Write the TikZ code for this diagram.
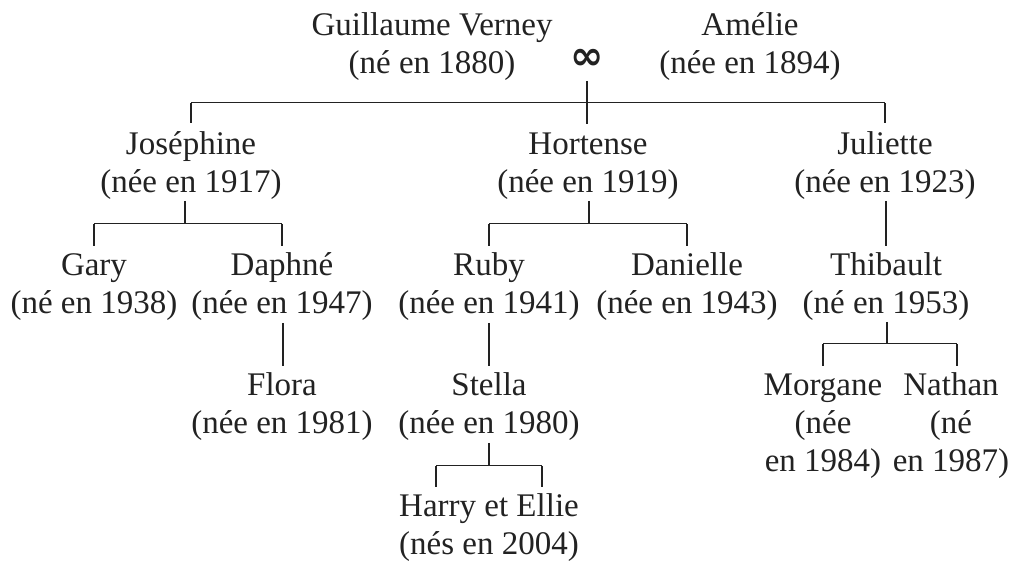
\documentclass[tikz,border=0pt]{standalone}
\usepackage{fontspec}
\setmainfont{Liberation Serif}
\newfontfamily\symfont{DejaVu Sans}
\usetikzlibrary{calc}
\definecolor{ink}{HTML}{222222}
\tikzset{
  person/.style={align=center, inner sep=0pt, anchor=north, text=ink,
    font=\fontsize{33}{38}\selectfont},
  marriage/.style={inner sep=0pt, text=ink, font=\symfont\bfseries\fontsize{40}{40}\selectfont},
  link/.style={draw=ink, line width=1.3pt},
}
\begin{document}
\begin{tikzpicture}[x=1pt,y=-1pt]
\useasboundingbox (0,0) rectangle (1012,561);
% generation 0
\node[person] (gv) at (432,8.4) {\strut Guillaume Verney\\\strut (né en 1880)};
\node[person] (am) at (750,8.4) {\strut Amélie\\\strut (née en 1894)};
\node[marriage] (wed) at (587,59) {∞};
% generation 1
\node[person] (jo) at (191,127.4) {\strut Joséphine\\\strut (née en 1917)};
\node[person] (ho) at (588,127.4) {\strut Hortense\\\strut (née en 1919)};
\node[person] (ju) at (885,127.4) {\strut Juliette\\\strut (née en 1923)};
% generation 2
\node[person] (ga) at (94,248.4) {\strut Gary\\\strut (né en 1938)};
\node[person] (da) at (282,248.4) {\strut Daphné\\\strut (née en 1947)};
\node[person] (ru) at (489,248.4) {\strut Ruby\\\strut (née en 1941)};
\node[person] (dn) at (687,248.4) {\strut Danielle\\\strut (née en 1943)};
\node[person] (th) at (886,248.4) {\strut Thibault\\\strut (né en 1953)};
% generation 3
\node[person] (fl) at (282,368.4) {\strut Flora\\\strut (née en 1981)};
\node[person] (st) at (489,368.4) {\strut Stella\\\strut (née en 1980)};
\node[person] (mo) at (823,368.4) {\strut Morgane\\\strut (née\\\strut en 1984)};
\node[person] (na) at (951,368.4) {\strut Nathan\\\strut (né\\\strut en 1987)};
% generation 4
\node[person] (he) at (489,489.4) {\strut Harry et Ellie\\\strut (nés en 2004)};

% couple -> daughters
\coordinate (s0) at (wed |- gv.south);
\draw[link] ($(s0)+(0,-4)$) -- ($(wed |- ho.north)+(0,-3)$);
\coordinate (b0) at ($(s0)+(0,18)$);
\draw[link] (b0 -| jo.north) -- (b0 -| ju.north);
\draw[link] (b0 -| jo.north) -- ($(jo.north)+(0,-4)$);
\draw[link] (b0 -| ju.north) -- ($(ju.north)+(0,-4)$);
% Josephine
\coordinate (s1) at ($(jo.south)+(-6,-3)$);
\coordinate (b1) at ($(s1)+(0,23)$);
\draw[link] (s1) -- (b1);
\draw[link] (b1 -| ga.north) -- (b1 -| da.north);
\draw[link] (b1 -| ga.north) -- ($(ga.north)+(0,-2)$);
\draw[link] (b1 -| da.north) -- ($(da.north)+(0,-2)$);
% Hortense
\coordinate (s2) at ($(ho.south)+(1,-3)$);
\coordinate (b2) at ($(s2)+(0,23)$);
\draw[link] (s2) -- (b2);
\draw[link] (b2 -| ru.north) -- (b2 -| dn.north);
\draw[link] (b2 -| ru.north) -- ($(ru.north)+(0,-2)$);
\draw[link] (b2 -| dn.north) -- ($(dn.north)+(0,-2)$);
% Juliette
\draw[link] ($(ju.south)+(1,-3)$) -- ($(th.north)+(0,-2)$);
% Daphne -> Flora, Ruby -> Stella
\draw[link] ($(da.south)+(1,-2)$) -- ($(fl.north)+(1,-2)$);
\draw[link] ($(ru.south)+(0,-2)$) -- ($(st.north)+(0,-2)$);
% Thibault
\coordinate (s3) at ($(th.south)+(1,-3)$);
\coordinate (b3) at ($(s3)+(0,22)$);
\draw[link] (s3) -- (b3);
\draw[link] (b3 -| mo.north) -- ($(b3 -| na.north)+(6,0)$);
\draw[link] (b3 -| mo.north) -- ($(mo.north)+(0,-2)$);
\draw[link] ($(b3 -| na.north)+(6,0)$) -- ($(na.north)+(6,-2)$);
% Stella
\coordinate (s4) at ($(st.south)+(0,-2)$);
\coordinate (b4) at ($(s4)+(0,23)$);
\coordinate (h1) at ($(he.north)+(-53,-2)$);
\coordinate (h2) at ($(he.north)+(53,-2)$);
\draw[link] (s4) -- (b4);
\draw[link] (b4 -| h1) -- (b4 -| h2);
\draw[link] (b4 -| h1) -- (h1);
\draw[link] (b4 -| h2) -- (h2);
\end{tikzpicture}
\end{document}
